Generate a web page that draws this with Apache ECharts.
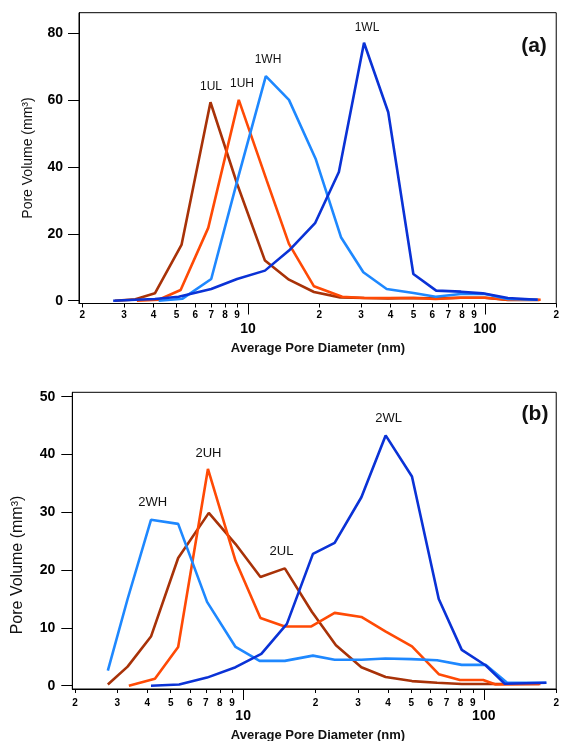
<!DOCTYPE html>
<html>
<head>
<meta charset="utf-8">
<title>Pore size distribution</title>
<script src="https://cdn.jsdelivr.net/npm/echarts@6/dist/echarts.min.js"></script>
<style>
  html, body { margin: 0; background: #fff; }
  #chart { width: 562px; height: 741px; }
</style>
</head>
<body>
<div id="chart"></div>
<script>
// ---- panel (a) ----
const diam1UL = [2.75, 3.35, 4.05, 5.25, 6.95, 9.0, 11.8, 14.9, 19.0, 24.5, 31, 39, 50, 62, 79, 100, 125, 170]
const vol1UL = [0, 0.4, 2.2, 16.8, 59.4, 35, 12, 6.3, 2.6, 1.0, 0.8, 0.7, 0.8, 0.7, 0.9, 0.9, 0.2, 0.2]
const diam1UH = [3.4, 4.2, 5.2, 6.8, 9.15, 12, 14.9, 19, 25, 31, 39, 50, 62, 79, 100, 125, 172]
const vol1UH = [0, 0.3, 3.2, 21.8, 60.1, 36, 17, 4.3, 1.2, 0.8, 0.8, 0.8, 0.5, 0.9, 0.9, 0.3, 0.3]
const diam1WH = [4.2, 5.3, 7.0, 9.1, 11.9, 14.9, 19.3, 24.7, 30.7, 38.5, 50, 62, 79, 100, 125, 167]
const vol1WH = [0, 0.6, 6.5, 37, 67.2, 60.1, 42.5, 19, 8.5, 3.5, 2.3, 1.2, 2.0, 2.0, 0.5, 0.3]
const diam1WL = [2.7, 3.35, 4.05, 5.1, 7.0, 9.0, 11.8, 14.9, 19.2, 24.2, 30.9, 39.1, 49.9, 62.3, 79.3, 98, 125, 167]
const vol1WL = [0, 0.3, 0.5, 1.2, 3.5, 6.5, 9, 15, 23.2, 38.5, 77.2, 56.4, 8.0, 3.0, 2.7, 2.2, 0.8, 0.3]

// ---- panel (b) ----
const diam2UL = [2.74, 3.31, 4.14, 5.37, 7.2, 9.3, 11.8, 14.9, 19.3, 24.3, 31, 39.1, 50.3, 64, 81, 100, 125, 170]
const vol2UL = [0.2, 3.3, 8.5, 22.1, 29.9, 24.5, 18.8, 20.3, 12.8, 7.0, 3.2, 1.5, 0.8, 0.5, 0.3, 0.3, 0.3, 0.3]
const diam2UH = [3.35, 4.3, 5.37, 7.14, 9.3, 11.8, 14.9, 19.2, 24.0, 31, 39, 50.3, 65, 79.6, 99.5, 112, 172]
const vol2UH = [0, 1.2, 6.7, 37.5, 21.6, 11.7, 10.25, 10.25, 12.6, 11.9, 9.4, 6.8, 2.0, 1.0, 1.0, 0.2, 0.3]
const diam2WH = [2.74, 3.31, 4.14, 5.37, 7.08, 9.3, 11.7, 14.9, 19.5, 24.0, 31, 39, 50, 64, 81, 102, 125, 182]
const vol2WH = [2.6, 15, 28.7, 28.0, 14.5, 6.7, 4.3, 4.3, 5.2, 4.5, 4.5, 4.7, 4.6, 4.4, 3.6, 3.6, 0.5, 0.5]
const diam2WL = [4.14, 5.42, 7.08, 9.3, 11.9, 15.2, 19.5, 24.0, 31, 39.1, 50.3, 65, 81, 102, 122, 182]
const vol2WL = [0, 0.2, 1.4, 3.2, 5.5, 10.7, 22.8, 24.7, 32.6, 43.3, 36.2, 15.0, 6.2, 3.5, 0.35, 0.5]

// tick labels
const minorTicks = [2, 3, 4, 5, 6, 7, 8, 9, 20, 30, 40, 50, 60, 70, 80, 90, 200]
const majorTicks = [10, 100]
const yTicksA = [0, 20, 40, 60, 80]
const yTicksB = [0, 10, 20, 30, 40, 50]

const FONT = '"Liberation Sans", Arial, sans-serif'
const colors = { UL: '#a83208', UH: '#ff4a05', WH: '#1e88ff', WL: '#0a32d6' }

const zip = (xs, ys) => xs.map((x, i) => [x, ys[i]])

const panels = [
  { grid: { left: 79, top: 12.7, width: 480.3, height: 290.8 }, xmin: 1.937, xmax: 200, ymin: -0.84, ymax: 86.2, yTicks: yTicksA, yMargin: 16 },
  { grid: { left: 72.3, top: 392.3, width: 487.7, height: 296.7 }, xmin: 1.95, xmax: 200, ymin: -0.57, ymax: 50.76, yTicks: yTicksB, yMargin: 17 }
]

const xAxis = []
const yAxis = []
panels.forEach((p, gi) => {
  // data axis (log scale)
  xAxis.push({
    gridIndex: gi, type: 'log', logBase: 10, min: p.xmin, max: p.xmax, position: 'bottom',
    axisLine: { onZero: false, lineStyle: { color: '#000', width: 1 } },
    axisTick: { show: false }, axisLabel: { show: false }, splitLine: { show: false }, minorTick: { show: false }
  })
  // minor tick decoration (log10 space)
  xAxis.push({
    gridIndex: gi, type: 'value', min: Math.log10(p.xmin), max: Math.log10(p.xmax), position: 'bottom',
    axisLine: { show: false, onZero: false },
    axisTick: { show: true, length: 4, customValues: minorTicks.map(Math.log10), lineStyle: { color: '#000' } },
    axisLabel: {
      customValues: minorTicks.map(Math.log10), margin: gi === 0 ? 7 : 9,
      fontSize: 10, fontWeight: 'bold', fontFamily: FONT, color: '#000',
      formatter: v => String(Math.round(Math.pow(10, v))).charAt(0)
    },
    splitLine: { show: false }
  })
  // major tick decoration
  xAxis.push({
    gridIndex: gi, type: 'value', min: Math.log10(p.xmin), max: Math.log10(p.xmax), position: 'bottom',
    axisLine: { show: false, onZero: false },
    axisTick: { show: true, length: 11, customValues: majorTicks.map(Math.log10), lineStyle: { color: '#000' } },
    axisLabel: {
      customValues: majorTicks.map(Math.log10), margin: gi === 0 ? 19 : 20,
      fontSize: 14, fontWeight: 'bold', fontFamily: FONT, color: '#000',
      formatter: v => String(Math.round(Math.pow(10, v)))
    },
    splitLine: { show: false }
  })
  yAxis.push({
    gridIndex: gi, type: 'value', min: p.ymin, max: p.ymax,
    axisLine: { show: true, onZero: false, lineStyle: { color: '#000', width: 1 } },
    axisTick: { show: true, length: 11, customValues: p.yTicks, lineStyle: { color: '#000' } },
    axisLabel: { customValues: p.yTicks, margin: p.yMargin, fontSize: 14, fontWeight: 'bold', fontFamily: FONT, color: '#000' },
    splitLine: { show: false }
  })
})

const line = (gi, data, color) => ({
  type: 'line', xAxisIndex: gi * 3, yAxisIndex: gi, data,
  showSymbol: false, silent: true, animation: false,
  lineStyle: { color, width: 2.6 }, itemStyle: { color }
})

const txt = (x, y, text, size, weight, extra) => Object.assign({
  type: 'text', x, y, silent: true,
  style: { text, fontSize: size, fontWeight: weight || 'normal', fontFamily: FONT, fill: '#111', align: 'center', verticalAlign: 'middle' }
}, extra || {})

const chart = echarts.init(document.getElementById('chart'), null, { renderer: 'canvas' })
chart.setOption({
  backgroundColor: '#fff',
  animation: false,
  grid: panels.map(p => Object.assign({ show: true, borderColor: '#000', borderWidth: 1, backgroundColor: 'transparent' }, p.grid)),
  xAxis,
  yAxis,
  series: [
    line(0, zip(diam1UL, vol1UL), colors.UL),
    line(0, zip(diam1UH, vol1UH), colors.UH),
    line(0, zip(diam1WH, vol1WH), colors.WH),
    line(0, zip(diam1WL, vol1WL), colors.WL),
    line(1, zip(diam2UL, vol2UL), colors.UL),
    line(1, zip(diam2UH, vol2UH), colors.UH),
    line(1, zip(diam2WH, vol2WH), colors.WH),
    line(1, zip(diam2WL, vol2WL), colors.WL)
  ],
  graphic: [
    // series labels
    txt(211, 87, '1UL', 12), txt(242, 84, '1UH', 12), txt(268, 60, '1WH', 12), txt(367, 28, '1WL', 12),
    txt(152.7, 502.5, '2WH', 13), txt(208.5, 453, '2UH', 13), txt(281.5, 551.7, '2UL', 13), txt(388.7, 418, '2WL', 13),
    // panel tags
    txt(534, 46, '(a)', 21, 'bold'), txt(535, 414, '(b)', 21, 'bold'),
    // axis titles
    txt(318, 348, 'Average Pore Diameter (nm)', 13, 'bold'),
    txt(318, 735, 'Average Pore Diameter (nm)', 13, 'bold'),
    txt(28, 158, 'Pore Volume (mm³)', 14, 'normal', { rotation: Math.PI / 2 }),
    txt(17.5, 565, 'Pore Volume (mm³)', 16, 'normal', { rotation: Math.PI / 2 })
  ]
})
</script>
</body>
</html>
